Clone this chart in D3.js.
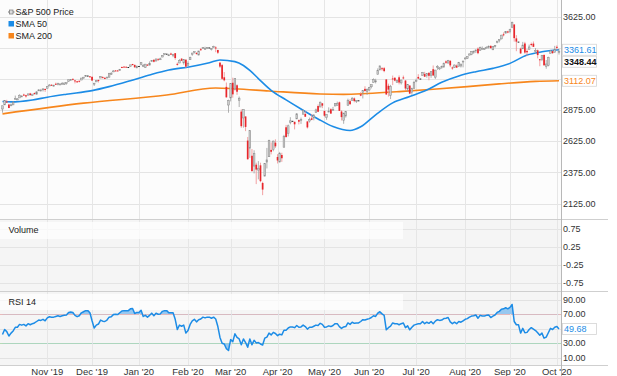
<!DOCTYPE html>
<html>
<head>
<meta charset="utf-8">
<script src="https://cdn.jsdelivr.net/npm/d3@7"></script>
<style>
    html, body { margin: 0; padding: 0; background: #fff; }
    svg { display: block; font-family: "Liberation Sans", Arial, sans-serif; }
</style>
</head>
<body>
<svg id="chart" width="617" height="376"></svg>
<script>
// one entry per weekday, 3 Oct 2019 .. 2 Oct 2020 (market holidays are flat)
const opens = [
    2885,2918,2945,2921,2912,2918,2964,2966,2974,2990,3001,2996,2996,3010,2995,3014,3004,3033,3036,3040,3047,
    3051,3078,3080,3075,3088,3082,3081,3089,3084,3091,3107,3118,3128,3115,3108,3112,3118,3135,3145,3154,3148,
    3144,3087,3103,3119,3134,3141,3135,3135,3141,3166,3183,3195,3195,3193,3223,3226,3225,3223,3227,3247,3240,3216,
    3231,3245,3226,3218,3242,3238,3267,3281,3271,3285,3282,3303,3324,3330,3321,3331,3316,3334,3248,3255,3290,3256,3282,
    3236,3281,3325,3344,3335,3319,3366,3371,3365,3379,3380,3370,3381,3380,3360,3258,3238,3140,3063,2917,
    2974,3096,3046,3076,2954,2864,2813,2825,2631,2570,2509,2426,2437,2394,2432,2290,2345,2458,2501,2556,2559,2614,
    2499,2459,2515,2578,2738,2686,2777,2790,2782,2805,2796,2800,2843,2845,2785,2788,2810,2813,2855,2909,2901,2931,
    2870,2815,2868,2883,2878,2909,2915,2939,2865,2794,2829,2914,2948,2953,2970,2948,2955,3004,3016,3047,3026,
    3038,3064,3098,3112,3163,3199,3213,3213,3123,3072,2994,3131,3136,3101,3140,3095,3139,3114,3046,3074,3018,3050,
    3105,3143,3130,3155,3166,3154,3176,3153,3205,3141,3226,3209,3225,3224,3268,3254,3272,3219,3219,3234,3227,3231,3270,
    3289,3290,3318,3323,3341,3356,3370,3355,3372,3368,3380,3388,3392,3361,3387,3419,3436,3449,3486,3495,3509,
    3507,3543,3565,3453,3427,3371,3369,3412,3352,3364,3408,3411,3347,3357,3285,3285,3320,3226,3236,3333,3350,3341,
    3385,3338
];
const highs = [
    2911,2953,2959,2926,2929,2949,2993,2972,3003,2994,3008,3000,3007,3015,3005,3017,3028,3044,3047,3050,3047,
    3067,3085,3083,3079,3097,3094,3088,3102,3098,3097,3121,3124,3128,3119,3111,3113,3134,3143,3155,3154,3150,
    3145,3094,3119,3120,3150,3148,3143,3143,3176,3183,3198,3198,3199,3206,3226,3228,3226,3223,3240,3248,3241,3231,
    3231,3258,3247,3247,3245,3268,3275,3283,3288,3295,3298,3317,3330,3330,3329,3338,3327,3334,3259,3286,3293,3286,3282,
    3268,3306,3337,3348,3342,3352,3376,3381,3386,3381,3380,3375,3394,3390,3360,3260,3247,3182,3098,2960,
    3091,3137,3130,3083,2985,2882,2882,2825,2660,2711,2563,2553,2453,2466,2453,2300,2449,2572,2638,2616,2631,2641,
    2522,2540,2533,2677,2757,2760,2819,2790,2783,2852,2801,2816,2880,2868,2785,2816,2845,2843,2888,2922,2945,2931,
    2870,2844,2898,2891,2902,2932,2945,2945,2875,2852,2865,2968,2964,2981,2978,2957,2955,3021,3037,3068,3050,
    3063,3081,3131,3128,3212,3233,3222,3223,3123,3089,3079,3154,3141,3121,3155,3120,3154,3116,3086,3074,3053,3112,
    3129,3165,3130,3183,3184,3172,3180,3186,3235,3200,3238,3221,3234,3259,3277,3280,3279,3227,3242,3243,3264,3250,3272,
    3302,3306,3331,3351,3353,3364,3381,3387,3388,3378,3388,3396,3399,3391,3400,3432,3444,3482,3501,3510,3514,
    3528,3588,3565,3479,3427,3379,3425,3425,3368,3403,3419,3428,3375,3363,3286,3320,3323,3279,3306,3360,3358,3393,
    3397,3370
];
const lows = [
    2855,2918,2936,2892,2907,2918,2963,2962,2974,2985,2991,2977,2996,2996,2991,3000,3002,3033,3032,3026,3023,
    3051,3075,3072,3065,3080,3075,3076,3085,3078,3081,3105,3113,3114,3091,3095,3099,3118,3131,3143,3154,3139,
    3110,3070,3103,3098,3134,3135,3125,3133,3138,3159,3183,3191,3191,3192,3217,3221,3221,3223,3227,3235,3216,3213,
    3231,3236,3222,3215,3233,3236,3263,3260,3268,3278,3280,3302,3318,3330,3316,3319,3302,3281,3234,3254,3271,3242,3215,
    3236,3281,3313,3332,3323,3317,3353,3369,3361,3367,3380,3356,3379,3342,3328,3215,3119,3108,2977,2855,
    2946,2976,3034,2999,2901,2734,2735,2707,2478,2492,2380,2367,2281,2319,2296,2192,2345,2407,2501,2520,2545,2572,
    2447,2455,2460,2575,2657,2664,2762,2790,2721,2805,2761,2765,2843,2821,2728,2776,2795,2794,2855,2860,2900,2892,
    2822,2798,2863,2848,2877,2909,2915,2870,2793,2766,2816,2914,2922,2953,2939,2934,2955,2988,2970,3024,2999,
    3031,3051,3098,3091,3163,3197,3193,3181,2999,2985,2965,3077,3108,3094,3083,3082,3123,3033,3024,3005,2999,3048,
    3101,3124,3130,3155,3143,3137,3116,3136,3150,3127,3200,3198,3208,3215,3248,3254,3222,3201,3215,3216,3227,3219,3220,
    3285,3287,3318,3318,3329,3335,3326,3355,3365,3362,3375,3371,3369,3359,3379,3413,3421,3445,3469,3494,3494,
    3494,3535,3427,3350,3427,3330,3369,3329,3311,3364,3389,3384,3328,3292,3229,3270,3232,3209,3228,3333,3328,3341,
    3362,3323
];
const closes = [
    2911,2952,2939,2893,2919,2938,2970,2966,2996,2990,2998,2986,3007,2996,3005,3010,3023,3039,3037,3047,3038,
    3067,3078,3075,3077,3085,3093,3087,3092,3094,3097,3120,3122,3120,3108,3104,3110,3134,3141,3154,3154,3141,
    3114,3093,3113,3117,3146,3136,3133,3142,3169,3169,3191,3193,3191,3205,3221,3224,3223,3223,3240,3240,3221,3231,
    3231,3258,3235,3246,3237,3253,3275,3265,3288,3283,3289,3317,3330,3330,3321,3322,3326,3295,3244,3276,3273,3284,3226,
    3249,3298,3335,3346,3328,3352,3358,3379,3374,3380,3380,3370,3386,3373,3338,3226,3128,3116,2979,2954,
    3090,3003,3130,3024,2972,2747,2882,2741,2481,2711,2386,2529,2398,2409,2305,2237,2447,2476,2630,2541,2627,2585,
    2471,2527,2489,2664,2659,2750,2790,2790,2762,2846,2783,2800,2875,2823,2737,2799,2798,2837,2878,2863,2940,2912,
    2831,2843,2868,2848,2881,2930,2930,2870,2820,2853,2864,2954,2923,2972,2949,2955,2955,2992,3036,3030,3044,
    3056,3081,3123,3112,3194,3232,3207,3190,3002,3041,3067,3125,3113,3115,3098,3118,3131,3050,3084,3009,3053,3100,
    3116,3130,3130,3180,3145,3170,3152,3185,3155,3198,3227,3216,3225,3252,3257,3276,3236,3216,3239,3218,3258,3246,3271,
    3295,3307,3328,3349,3351,3360,3334,3380,3373,3373,3382,3390,3375,3386,3397,3431,3444,3479,3485,3508,3500,
    3527,3581,3455,3427,3427,3332,3399,3339,3341,3384,3401,3385,3357,3319,3281,3316,3237,3247,3298,3352,3335,3363,
    3381,3348.44
];
const rsi14 = [
    42,49,46,40,44,47,52,52,56,55,56,54,57,55.5,57,58,60,62,61.5,63,61,
    65,66.5,66,66,67,68,67,68,68.5,69,72.5,73,72.5,68.5,66.7,68,72,73.5,75,75,72,
    61,51,55,56.5,62,60.5,60,62,66,66.5,69.5,70,69.5,72,74.5,75,75,75,77.5,78,71,72.5,
    72.5,75.5,67,68.5,66,68.5,71.5,68,71.5,70,70.5,74,75,75,72,72,72,63,49,55,53.5,55,44,
    47.5,56,61,63,59.5,62.5,63.5,66,65,66,66,64.5,66,63.5,53,38,30,29,22.5,20,
    35,32,43,38,36,28,36,31,24.5,36,28,34,30.5,31,29,27.5,37,38.5,44,41.5,45,43.5,
    40.5,42.5,41.5,48,48,51,52.5,52.5,51.5,54.5,52,52.5,55,53,49.5,52,52,53.5,55,54.5,57.5,56,
    52,52.5,54,53,54.5,57,57,53,50.5,52.5,53,58,56,59,57.5,58,58,60,62.5,62,63,
    64,65.5,68,67,71.5,73.5,70.5,68.5,48.5,51.5,53.5,58,57,57,55.5,57,58,51.5,54,48.5,52,55,
    56,57,57,60,57,59,57.5,60,57,60.5,62.5,61.5,62,64,64.5,65.5,59.5,57,59,57,60,59,61,
    63,64,66,67.5,68,69,64.5,68.5,67.5,67.5,68.5,69,65.5,67.5,69,72.5,74,77,77.5,79,77.5,
    79.5,83.5,60,55.5,55.5,44,50.5,44.5,45,49,51.5,49.5,47.5,44.5,41,44,37,38.5,44.5,50.5,49,52,
    53,49.68
];

// moving averages at a few weekday positions
const sma50Idx = [0, 4, 14, 21, 30, 42, 50, 60, 69, 78, 88, 97, 102, 109, 113, 116, 120, 126, 133, 140, 148, 155, 163, 168, 175, 183, 191, 199, 206, 214, 222, 230, 238, 246, 253, 261];
const sma50 = [2945, 2942, 2958, 2980, 3004, 3033, 3065, 3113, 3159, 3199, 3225, 3257, 3279, 3266, 3235, 3195, 3130, 3035, 2958, 2885, 2805, 2744, 2712, 2742, 2838, 2934, 2985, 3038, 3100, 3151, 3185, 3212, 3252, 3319, 3345, 3361.61];
const sma200Idx = [0, 38, 77, 100, 109, 125, 149, 160, 171, 186, 202, 218, 233, 250, 261];
const sma200 = [2846, 2932, 2998, 3054, 3048, 3030, 3006, 3003, 3010, 3025, 3044, 3065, 3087, 3107, 3112.07];

const monthIdx = [21, 42, 64, 87, 107, 129, 151, 172, 194, 217, 238, 260];
const monthLabels = ["Nov '19", "Dec '19", "Jan '20", "Feb '20", "Mar '20", "Apr '20", "May '20", "Jun '20", "Jul '20", "Aug '20", "Sep '20", "Oct '20"];

const priceGrid = [2125, 2375, 2625, 2875, 3125, 3375, 3625];
const priceLabels = [2125, 2375, 2625, 2875, 3625];
const volumeTicks = [0.75, 0.25, -0.25, -0.75];
const rsiGrid = [90, 50, 10];
const rsiLabels = [90, 70, 30, 10];

const lastSma50 = 3361.61, lastClose = 3348.44, lastSma200 = 3112.07, lastRsi = 49.68;

const BLUE = "#1c8ce6";
const ORANGE = "#f7861c";
const RED = "#e8262b";
const AXIS_X = 561;

const svg = d3.select("#chart");

const x = d3.scaleLinear().domain([0, closes.length - 1]).range([2.5, 559]);
const yPrice = d3.scaleLinear().domain([2125, 3625]).range([203.5, 17]);
const yVol = d3.scaleLinear().domain([-1, 1]).range([292, 219.5]);
const yRsi = d3.scaleLinear().domain([0, 100]).range([365, 292.5]);

function drawBackgrounds() {
    svg.append("rect").attr("x", 0).attr("y", 0).attr("width", AXIS_X).attr("height", 219.5).attr("fill", "#fcfcfc");
    svg.append("rect").attr("x", 0).attr("y", 219.5).attr("width", AXIS_X).attr("height", 145.5).attr("fill", "#f5f5f5");
}

function hLine(y, color, x2 = AXIS_X) {
    svg.append("line").attr("x1", 0).attr("x2", x2).attr("y1", y).attr("y2", y)
        .attr("stroke", color).attr("stroke-width", 1).attr("shape-rendering", "crispEdges");
}

function drawGrid() {
    priceGrid.forEach(v => hLine(Math.round(yPrice(v)) + 0.5, "#e4e4e4"));
    volumeTicks.forEach(v => hLine(Math.round(yVol(v)) + 0.5, "#e4e4e4"));
    rsiGrid.forEach(v => hLine(Math.round(yRsi(v)) + 0.5, "#e2e2e2"));
    hLine(Math.round(yRsi(70)) + 0.5, "#e9b9b9");
    hLine(Math.round(yRsi(30)) + 0.5, "#b5dbb5");

    svg.append("g").selectAll("line").data(monthIdx).join("line")
        .attr("x1", d => Math.round(x(d)) + 0.5).attr("x2", d => Math.round(x(d)) + 0.5)
        .attr("y1", 0).attr("y2", 365)
        .attr("stroke", "#e6e6e6").attr("shape-rendering", "crispEdges");

    // panel labels sit on a pale band
    svg.append("rect").attr("x", 0).attr("y", 222).attr("width", 403).attr("height", 17).attr("fill", "#fff").attr("opacity", 0.7);
    svg.append("rect").attr("x", 0).attr("y", 294).attr("width", 403).attr("height", 16).attr("fill", "#fff").attr("opacity", 0.7);

    hLine(219.5, "#cfcfcf", 608);
    hLine(291.5, "#cfcfcf", 608);
    hLine(365.5, "#cfcfcf", 608);
    svg.append("line").attr("x1", AXIS_X + 0.5).attr("x2", AXIS_X + 0.5).attr("y1", 0).attr("y2", 376)
        .attr("stroke", "#b8b8b8").attr("shape-rendering", "crispEdges");
}

function drawCandles() {
    let g = svg.append("g").attr("clip-path", "url(#priceClip)");
    svg.append("clipPath").attr("id", "priceClip").append("rect")
        .attr("x", 0).attr("y", 0).attr("width", AXIS_X).attr("height", 219);

    let days = d3.range(closes.length);
    let isFlat = i => highs[i] === lows[i];
    let isUp = i => closes[i] >= opens[i];

    g.selectAll("line.wick").data(days.filter(i => !isFlat(i))).join("line")
        .attr("class", "wick")
        .attr("x1", i => x(i)).attr("x2", i => x(i))
        .attr("y1", i => yPrice(highs[i])).attr("y2", i => yPrice(lows[i]))
        .attr("stroke", i => isUp(i) ? "#9c9c9c" : "#f08a8c").attr("stroke-width", 0.8);

    const bw = 1.7;
    g.selectAll("rect.body").data(days).join("rect")
        .attr("class", "body")
        .attr("x", i => x(i) - bw / 2)
        .attr("y", i => yPrice(Math.max(opens[i], closes[i])))
        .attr("width", bw)
        .attr("height", i => Math.max(1, Math.abs(yPrice(opens[i]) - yPrice(closes[i]))))
        .attr("fill", i => isFlat(i) ? "#222" : (isUp(i) ? "#cdcdcd" : RED))
        .attr("stroke", i => isFlat(i) || !isUp(i) ? "none" : "#8a8a8a")
        .attr("stroke-width", 0.5);
}

function drawSma(idx, values, color) {
    let line = d3.line().x(d => x(d[0])).y(d => yPrice(d[1])).curve(d3.curveMonotoneX);
    svg.append("path").datum(d3.zip(idx, values)).attr("d", line)
        .attr("fill", "none").attr("stroke", color).attr("stroke-width", 1.6);
}

function drawRsi() {
    let days = d3.range(rsi14.length);
    svg.append("clipPath").attr("id", "rsiHigh").append("rect")
        .attr("x", 0).attr("y", 292).attr("width", AXIS_X).attr("height", yRsi(70) - 292);
    svg.append("clipPath").attr("id", "rsiLow").append("rect")
        .attr("x", 0).attr("y", yRsi(30)).attr("width", AXIS_X).attr("height", 365 - yRsi(30));

    let areaHigh = d3.area().x(i => x(i)).y0(yRsi(70)).y1(i => yRsi(rsi14[i]));
    let areaLow = d3.area().x(i => x(i)).y0(yRsi(30)).y1(i => yRsi(rsi14[i]));
    svg.append("path").datum(days).attr("d", areaHigh).attr("fill", "#86bfee").attr("opacity", 0.85).attr("clip-path", "url(#rsiHigh)");
    svg.append("path").datum(days).attr("d", areaLow).attr("fill", "#86bfee").attr("opacity", 0.85).attr("clip-path", "url(#rsiLow)");

    let line = d3.line().x(i => x(i)).y(i => yRsi(rsi14[i]));
    svg.append("path").datum(days).attr("d", line)
        .attr("fill", "none").attr("stroke", BLUE).attr("stroke-width", 1.5).attr("stroke-linejoin", "round");
}

function axisText(xPos, y, text, anchor = "start", size = 9) {
    return svg.append("text").attr("x", xPos).attr("y", y).attr("dy", "0.35em")
        .attr("text-anchor", anchor).attr("font-size", size).attr("fill", "#333").text(text);
}

function drawAxes() {
    priceLabels.forEach(v => axisText(AXIS_X + 2, yPrice(v), d3.format(".2f")(v)));
    volumeTicks.forEach(v => axisText(AXIS_X + 2, yVol(v), String(v)));
    rsiLabels.forEach(v => axisText(AXIS_X + 2, yRsi(v), d3.format(".2f")(v)));
    monthIdx.forEach((d, k) => axisText(x(d), 371.5, monthLabels[k], "middle", 9.5));
}

function valueBox(yCenter, text, color, weight = "normal") {
    let g = svg.append("g");
    g.append("rect").attr("x", AXIS_X + 1.5).attr("y", yCenter - 5.5).attr("width", 34).attr("height", 11)
        .attr("fill", "#fff").attr("stroke", "#d4d4d4").attr("stroke-width", 0.8);
    g.append("text").attr("x", AXIS_X + 3).attr("y", yCenter).attr("dy", "0.35em")
        .attr("font-size", 9).attr("font-weight", weight).attr("fill", color).text(text);
}

function drawValueBoxes() {
    let ySma50 = yPrice(lastSma50);
    valueBox(ySma50, d3.format(".2f")(lastSma50), BLUE);
    valueBox(ySma50 + 12, d3.format(".2f")(lastClose), "#111", "bold");
    valueBox(yPrice(lastSma200), d3.format(".2f")(lastSma200), ORANGE);
    valueBox(yRsi(lastRsi), d3.format(".2f")(lastRsi), BLUE);
}

function drawLegend() {
    let g = svg.append("g").attr("font-size", 9).attr("fill", "#222");
    // small candle glyph for the price series
    g.append("line").attr("x1", 8).attr("x2", 14.5).attr("y1", 12).attr("y2", 12).attr("stroke", "#777").attr("stroke-width", 1);
    g.append("rect").attr("x", 9.5).attr("y", 10).attr("width", 3.5).attr("height", 4).attr("fill", "#ddd").attr("stroke", "#777").attr("stroke-width", 0.7);
    g.append("rect").attr("x", 8.5).attr("y", 21).attr("width", 5.5).attr("height", 5.5).attr("fill", BLUE);
    g.append("rect").attr("x", 8.5).attr("y", 33).attr("width", 5.5).attr("height", 5.5).attr("fill", ORANGE);
    [["S&P 500 Price", 12], ["SMA 50", 24], ["SMA 200", 36]].forEach(([t, y]) =>
        g.append("text").attr("x", 15.5).attr("y", y).attr("dy", "0.35em").text(t));

    svg.append("text").attr("x", 8.5).attr("y", 230).attr("dy", "0.35em").attr("font-size", 9).attr("fill", "#222").text("Volume");
    svg.append("text").attr("x", 8.5).attr("y", 302).attr("dy", "0.35em").attr("font-size", 9).attr("fill", "#222").text("RSI 14");
}

drawBackgrounds();
drawGrid();
drawSma(sma200Idx, sma200, ORANGE);
drawSma(sma50Idx, sma50, BLUE);
drawCandles();
drawRsi();
drawAxes();
drawValueBoxes();
drawLegend();
</script>
</body>
</html>
